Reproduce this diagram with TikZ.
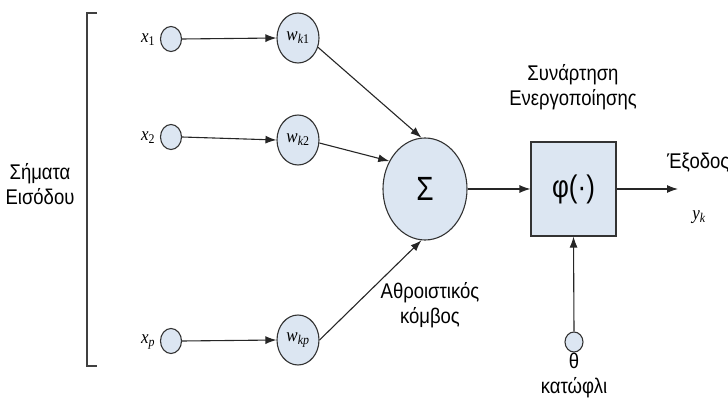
\documentclass[tikz,border=0pt]{standalone}
\usepackage{fontspec}
\setmainfont{Liberation Sans}
\newfontfamily\serifm{Liberation Serif}
\usetikzlibrary{shapes.geometric,arrows.meta}
\definecolor{nfill}{HTML}{DCE6F2}
\definecolor{nline}{HTML}{333333}
\newcommand{\vv}[2]{\scalebox{1}[1.12]{\serifm\itshape #1\textsubscript{#2}}}
\newcommand{\up}[1]{{\upshape #1}}
\newcommand{\tall}[1]{\scalebox{1}[1.15]{\begin{tabular}{@{}c@{}}#1\end{tabular}}}
\begin{document}
\begin{tikzpicture}[x=1pt,y=-1pt,
  inp/.style={ellipse,draw=nline,fill=nfill,line width=1.1pt,minimum width=21pt,minimum height=25pt,inner sep=0pt},
  wgt/.style={ellipse,draw=nline,fill=nfill,line width=1.1pt,minimum width=42pt,minimum height=50pt,inner sep=0pt,font=\fontsize{17}{17}\selectfont},
  sumnode/.style={ellipse,draw=nline,fill=nfill,line width=1.1pt,minimum width=84pt,minimum height=102pt,inner sep=0pt,font=\fontsize{28}{28}\selectfont},
  boxnode/.style={rectangle,draw=nline,fill=nfill,line width=1.1pt,minimum width=85pt,minimum height=94pt,inner sep=0pt,font=\fontsize{26}{26}\selectfont},
  lbl/.style={inner sep=0pt,align=center,font=\fontsize{18.5}{22}\selectfont},
  mlbl/.style={inner sep=0pt,font=\fontsize{17}{17}\selectfont},
  arr/.style={-{Latex[length=11pt,width=8pt]},line width=1.1pt,draw=black!85},
  brk/.style={line width=1.2pt,draw=black!75}
]
\useasboundingbox (0,0) rectangle (728,403);
% bracket
\draw[brk] (97,13) -- (87,13) -- (87,366) -- (97,366);
\node[lbl] (sig) at (40,187) {\tall{Σήματα\\Εισόδου}};
% inputs
\node[inp] (x1) at (171,39) {};
\node[inp] (x2) at (171,137) {};
\node[inp] (xp) at (171,341) {};
\node[mlbl] (lx1) at (148,40) {\vv{x}{\up{1}}};
\node[mlbl] (lx2) at (148,138) {\vv{x}{\up{2}}};
\node[mlbl] (lxp) at (148,342) {\vv{x}{p}};
% weights
\node[wgt] (w1) at (298,38) {\vv{w}{k\up{1}}};
\node[wgt] (w2) at (298,140) {\vv{w}{k\up{2}}};
\node[wgt] (wp) at (298,340) {\vv{w}{kp}};
\draw[arr] (x1.east) -- (w1.west);
\draw[arr] (x2.east) -- (w2.west);
\draw[arr] (xp.east) -- (wp.west);
% summing node
\node[sumnode] (sum) at (425,189) {\scalebox{1}[1.2]{Σ}};
\draw[arr] (w1.-25) -- (sum.94);
\draw[arr] (w2.-8) -- (sum.142);
\draw[arr] (wp.0) -- (sum.-94);
\node[lbl] (sumlbl) at (430,306) {\tall{Αθροιστικός\\κόμβος}};
% activation
\node[boxnode] (act) at (573.5,189) {\scalebox{1}[1.2]{φ(·)}};
\node[lbl] (actlbl) at (573,88) {\tall{Συνάρτηση\\Ενεργοποίησης}};
\draw[arr] (sum.east) -- (act.west);
\coordinate (out) at (678,189);
\draw[arr] (act.east) -- (out);
\node[lbl,anchor=west] (outlbl) at (667,163) {\tall{Έξοδος}};
\node[mlbl] (yk) at (699,217) {\vv{y}{k}};
% threshold
\node[inp,minimum width=18pt,minimum height=20pt] (th) at (574,342) {};
\draw[arr] (th.north) -- (act.south);
\node[lbl] (thlbl) at (574,376) {\tall{θ\\κατώφλι}};
\end{tikzpicture}
\end{document}
